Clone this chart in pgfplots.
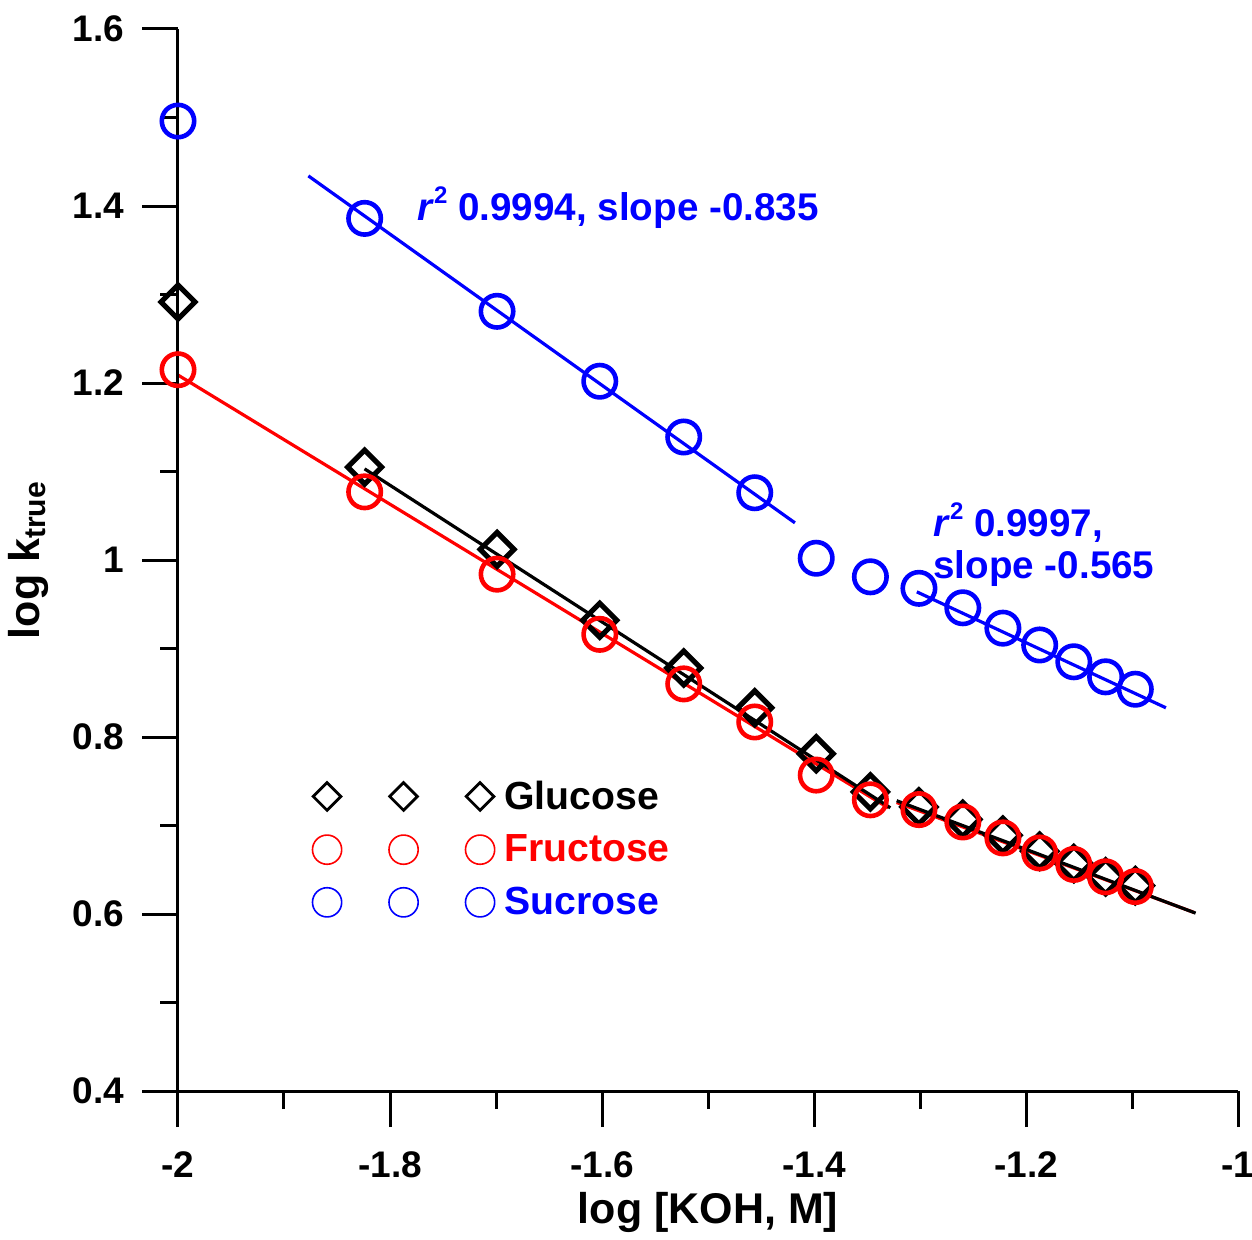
\documentclass[border=0pt]{standalone}
\usepackage{pgfplots}
\pgfplotsset{compat=1.18}
\usepackage{fontspec}
\setmainfont{Liberation Sans}
\pgfplotsset{
  triple/.style={legend image code/.code={\draw[##1] plot coordinates {(0pt,0pt) (38.25pt,0pt) (76.5pt,0pt)};}}
}
\newcommand{\rsq}{\textit{r}\raisebox{0.42em}{\fontsize{12}{12}\selectfont 2}}
\begin{document}
\begin{tikzpicture}
\begin{axis}[
  scale only axis, width=530pt, height=531pt,
  xmin=-2, xmax=-1, ymin=0.4, ymax=1.6,
  axis x line=bottom, axis y line=left,
  axis line style={-, line width=1.5pt},
  axis on top,
  xtick={-2,-1.8,-1.6,-1.4,-1.2,-1},
  ytick={0.4,0.6,0.8,1,1.2,1.4,1.6},
  minor x tick num=1, minor y tick num=1,
  tick align=outside,
  major tick length=18pt, minor tick length=9pt,
  every tick/.style={line width=1.5pt, black},
  tick label style={font=\bfseries\fontsize{18.5}{20}\selectfont},
  xticklabel style={yshift=-9pt},
  yticklabel style={xshift=-5.5pt},
  /pgf/number format/assume math mode=true,
  label style={font=\bfseries\fontsize{21.5}{24}\selectfont},
  xlabel={log [KOH, M]},
  ylabel={log k\textsubscript{true}},
  ylabel style={yshift=5pt},
  legend style={at={(axis cs:-1.8735,0.751)}, anchor=north west, draw=none, fill=none,
    inner sep=0pt, row sep=11.25pt, column sep=4.75pt,
    nodes={inner sep=0pt, font=\bfseries\fontsize{19.6}{22}\selectfont}},
  legend cell align=left,
]
% Glucose
\addplot[only marks, black, mark=square, mark size=6pt, line width=2.6pt,
  mark options={rotate=45},
  legend image post style={mark size=4.9pt, line width=1.4pt}, triple]
coordinates {
(-2,1.2915) (-1.8239,1.105) (-1.6990,1.012) (-1.6021,0.932) (-1.5229,0.878)
(-1.4559,0.833) (-1.3979,0.781) (-1.3468,0.738) (-1.3010,0.721) (-1.2596,0.707)
(-1.2218,0.689) (-1.1871,0.671) (-1.1549,0.657) (-1.1249,0.642) (-1.0969,0.632)
};
\addlegendentry{Glucose}
% Fructose
\addplot[only marks, red, mark=o, mark size=8.1pt, line width=2.3pt,
  legend image post style={mark size=7.3pt, line width=0.8pt}, triple]
coordinates {
(-2,1.215) (-1.8239,1.077) (-1.6990,0.984) (-1.6021,0.916) (-1.5229,0.860)
(-1.4559,0.817) (-1.3979,0.757) (-1.3468,0.729) (-1.3010,0.718) (-1.2596,0.704)
(-1.2218,0.686) (-1.1871,0.669) (-1.1549,0.656) (-1.1249,0.642) (-1.0969,0.631)
};
\addlegendentry{\textcolor{red}{Fructose}}
% Sucrose
\addplot[only marks, blue, mark=o, mark size=8.1pt, line width=2.3pt,
  legend image post style={mark size=7.3pt, line width=0.8pt}, triple]
coordinates {
(-2,1.496) (-1.8239,1.386) (-1.6990,1.281) (-1.6021,1.202) (-1.5229,1.139)
(-1.4559,1.076) (-1.3979,1.002) (-1.3468,0.981) (-1.3010,0.968) (-1.2596,0.946)
(-1.2218,0.923) (-1.1871,0.904) (-1.1549,0.885) (-1.1249,0.868) (-1.0969,0.854)
};
\addlegendentry{\textcolor{blue}{Sucrose}}
% fit lines
\addplot[forget plot, red, line width=1.6pt] coordinates {(-2,1.209) (-1.33,0.720)};
\addplot[forget plot, red, line width=1.6pt] coordinates {(-1.322,0.726) (-1.042,0.602)};
\addplot[forget plot, black, line width=1.6pt] coordinates {(-1.824,1.103) (-1.328,0.720)};
\addplot[forget plot, black, line width=1.6pt] coordinates {(-1.322,0.728) (-1.040,0.601)};
\addplot[forget plot, blue, line width=1.6pt] coordinates {(-1.877,1.434) (-1.418,1.042)};
\addplot[forget plot, blue, line width=1.6pt] coordinates {(-1.303,0.964) (-1.068,0.833)};
% annotations
\node[anchor=base west, text=blue, inner sep=0pt, font=\bfseries\fontsize{19.3}{22}\selectfont]
  at (axis cs:-1.7745,1.384) {\rsq{} 0.9994, slope -0.835};
\node[anchor=base west, text=blue, inner sep=0pt, font=\bfseries\fontsize{19.3}{22}\selectfont]
  at (axis cs:-1.2877,1.027) {\rsq{} 0.9997,};
\node[anchor=base west, text=blue, inner sep=0pt, font=\bfseries\fontsize{19.3}{22}\selectfont]
  at (axis cs:-1.2877,0.979) {slope -0.565};
\end{axis}
\pgfresetboundingbox
\path (current axis.south west) ++(-89pt,-74pt) rectangle ++(626pt,619.5pt);
\end{tikzpicture}
\end{document}
